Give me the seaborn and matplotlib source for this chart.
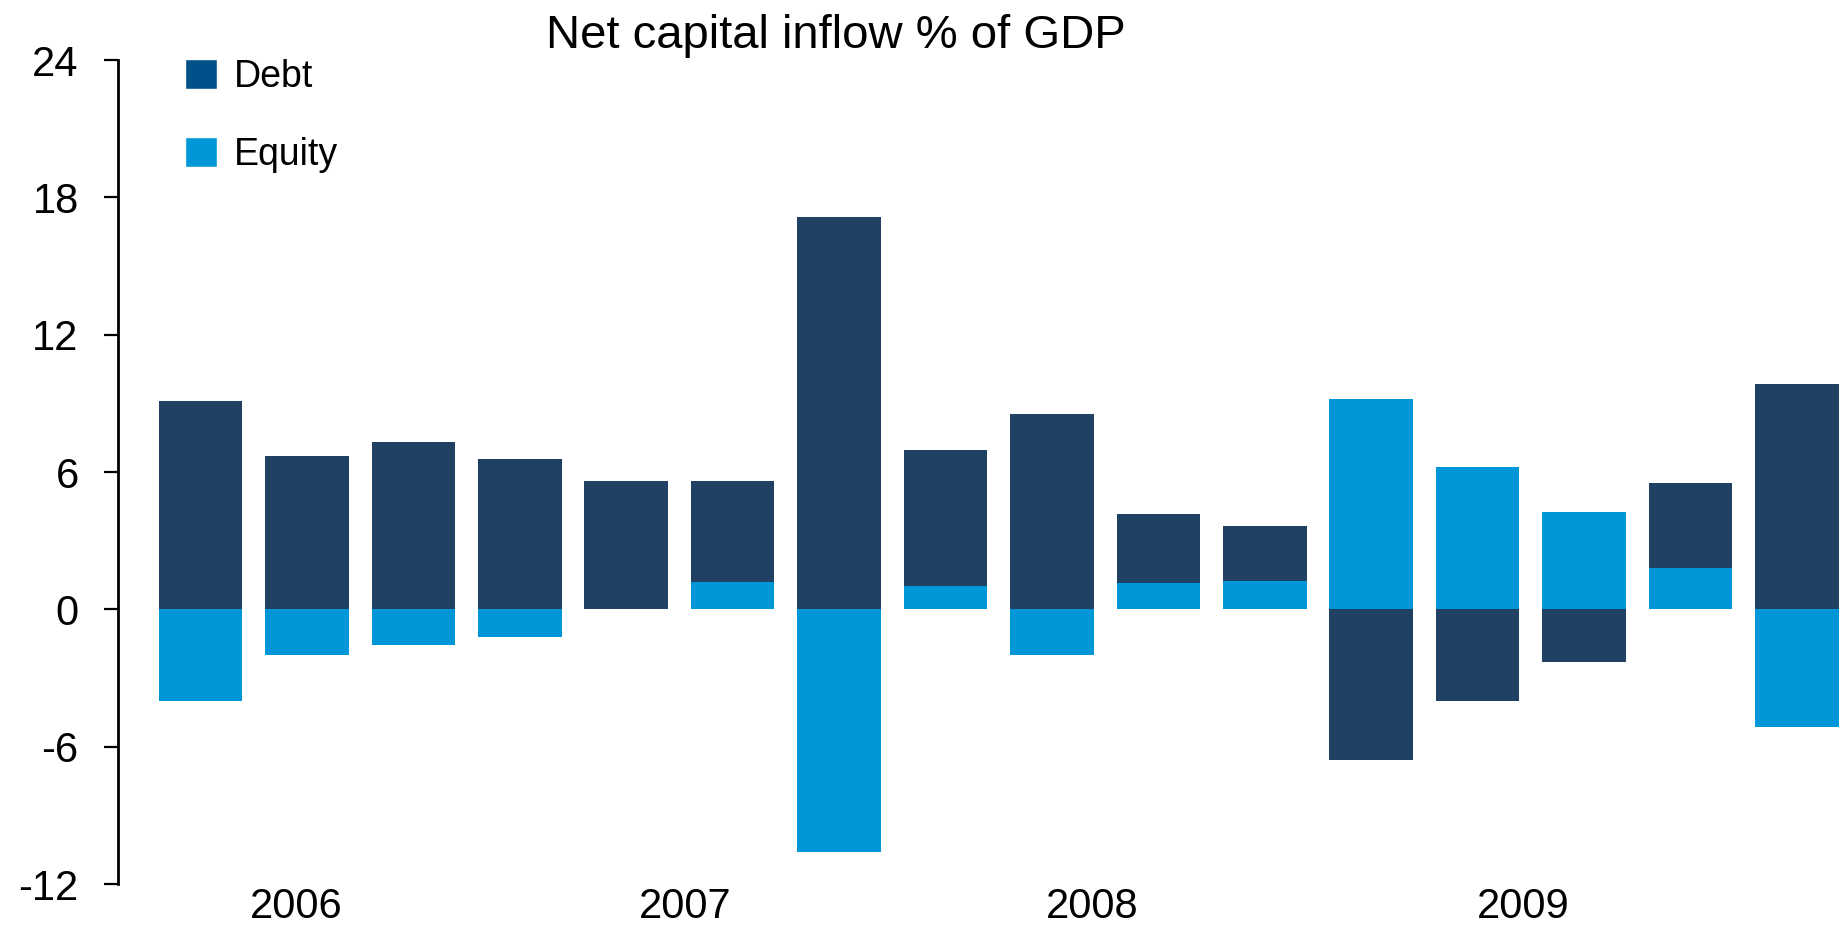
import numpy as np
import pandas as pd
import seaborn as sns
import matplotlib.pyplot as plt
from matplotlib.patches import Patch

# Quarterly net capital inflows, % of GDP
quarters = ["2006Q1", "2006Q2", "2006Q3", "2006Q4",
            "2007Q1", "2007Q2", "2007Q3", "2007Q4",
            "2008Q1", "2008Q2", "2008Q3", "2008Q4",
            "2009Q1", "2009Q2", "2009Q3", "2009Q4"]
debt = [9.1, 6.7, 7.3, 6.55, 5.6, 4.4, 17.15, 5.95,
        8.55, 3.0, 2.4, -6.6, -4.0, -2.3, 3.7, 9.85]
equity = [-4.0, -2.0, -1.55, -1.2, 0.0, 1.2, -10.6, 1.0,
          -2.0, 1.15, 1.25, 9.2, 6.2, 4.25, 1.8, -5.15]

year_labels = ["2006", "2007", "2008", "2009"]
year_label_pos = [0.897, 4.552, 8.376, 12.426]
y_ticks = [-12, -6, 0, 6, 12, 18, 24]

DEBT_COLOR = "#204164"
DEBT_KEY_COLOR = "#02508A"
EQUITY_COLOR = "#0097D9"

sns.set_theme(style="white")
plt.rcParams["font.family"] = ["Liberation Sans", "DejaVu Sans"]
plt.rcParams.update({"text.color": "black", "axes.labelcolor": "black",
                     "xtick.color": "black", "ytick.color": "black"})

df = pd.DataFrame({"quarter": quarters, "Debt": debt, "Equity": equity})
# When both flows are positive, equity sits at the base and debt is stacked on top
both_pos = (df["Debt"] > 0) & (df["Equity"] > 0)
df["debt_top"] = np.where(both_pos, df["Debt"] + df["Equity"], df["Debt"])

W, H = 1844, 926
fig = plt.figure(figsize=(W / 100, H / 100), dpi=100)
ax = fig.add_axes([117.6 / W, (H - 884) / H, (W - 117.6) / W, (884 - 60) / H])

bar_kw = dict(x="quarter", order=quarters, width=0.785, saturation=1,
              errorbar=None, linewidth=0, ax=ax)
sns.barplot(data=df, y="debt_top", color=DEBT_COLOR, **bar_kw)
sns.barplot(data=df, y="Equity", color=EQUITY_COLOR, **bar_kw)

ax.set_xlim(-0.779, 15.442)
ax.set_ylim(-12, 24)
ax.set_yticks(y_ticks)
ax.set_yticklabels([str(t) for t in y_ticks])
ax.set_xticks(year_label_pos)
ax.set_xticklabels(year_labels)
ax.set_xlabel("")
ax.set_ylabel("")

for side in ["top", "right", "bottom"]:
    ax.spines[side].set_visible(False)
ax.spines["left"].set_linewidth(2)
ax.spines["left"].set_color("black")

ax.tick_params(axis="y", direction="out", length=10, width=1.6, color="black",
               pad=18, labelsize=30, left=True, labelcolor="black")
ax.tick_params(axis="x", length=0, pad=2, labelsize=30, labelcolor="black")

fig.text(835.6 / W, 1 - 48 / H, "Net capital inflow % of GDP",
         ha="center", va="baseline", fontsize=34, color="black")

handles = [Patch(facecolor=DEBT_KEY_COLOR, label="Debt"),
           Patch(facecolor=EQUITY_COLOR, label="Equity")]
leg = fig.legend(handles=handles, loc="upper left", bbox_to_anchor=(185 / W, 1 - 59 / H),
                 frameon=False, fontsize=27, handlelength=0.85, handleheight=0.85,
                 handletextpad=0.45, labelspacing=1.12, borderpad=0, borderaxespad=0)
for t in leg.get_texts():
    t.set_color("black")

fig.savefig("out.png", dpi=100, facecolor="white")
